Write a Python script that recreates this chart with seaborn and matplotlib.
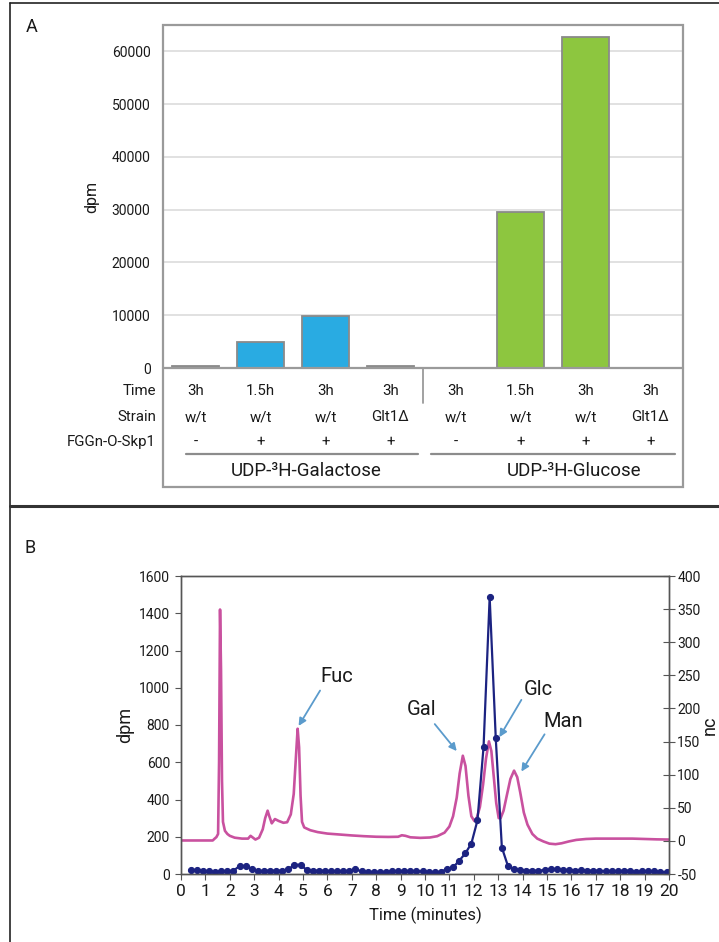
import matplotlib
matplotlib.use("Agg")
import matplotlib.pyplot as plt
import matplotlib.transforms as mtransforms
from matplotlib import font_manager
from matplotlib.patches import Rectangle
from matplotlib.lines import Line2D
import pandas as pd
import seaborn as sns

# ---------------- data: panel A (incorporation, dpm) ----------------
lane_time = ["3h", "1.5h", "3h", "3h", "3h", "1.5h", "3h", "3h"]
lane_strain = ["w/t", "w/t", "w/t", "Glt1Δ", "w/t", "w/t", "w/t", "Glt1Δ"]
lane_acceptor = ["-", "+", "+", "+", "-", "+", "+", "+"]
lane_donor = ["Gal", "Gal", "Gal", "Gal", "Glc", "Glc", "Glc", "Glc"]
lane_dpm = [350, 5000, 9800, 350, 0, 29500, 62700, 0]
donor_titles = ["UDP-³H-Galactose", "UDP-³H-Glucose"]
row_titles = ["Time", "Strain", "FGGn-O-Skp1"]
dpm_ticks_a = [0, 10000, 20000, 30000, 40000, 50000, 60000]

# ---------------- data: panel B (HPAEC trace) ----------------
trace_time = [0.0, 1.3, 1.38, 1.45, 1.52, 1.56, 1.60, 1.64, 1.68, 1.72, 1.80,
              1.9, 2.0, 2.2, 2.5, 2.75, 2.85, 2.95, 3.05, 3.2, 3.35, 3.45,
              3.55, 3.62, 3.72, 3.85, 4.0, 4.2, 4.35, 4.5, 4.62, 4.72, 4.78,
              4.84, 4.90, 4.96, 5.05, 5.3, 5.6, 6.0, 6.5, 7.0, 7.5, 8.0, 8.5,
              8.9, 9.05, 9.2, 9.4, 9.8, 10.2, 10.5, 10.8, 11.0, 11.15, 11.3,
              11.42, 11.55, 11.66, 11.78, 11.9, 12.02, 12.12, 12.25, 12.38,
              12.5, 12.62, 12.72, 12.82, 12.92, 13.02, 13.1, 13.22, 13.35,
              13.5, 13.65, 13.78, 13.9, 14.05, 14.2, 14.4, 14.6, 14.85, 15.1,
              15.35, 15.6, 15.9, 16.2, 16.6, 17.0, 17.5, 18.0, 18.5, 19.0,
              19.5, 20.0]
trace_dpm = [180, 180, 190, 198, 215, 600, 1420, 1100, 500, 280, 232,
             215, 205, 195, 190, 190, 205, 195, 185, 195, 240, 300,
             340, 310, 272, 295, 285, 275, 278, 320, 430, 650, 780,
             680, 420, 280, 250, 235, 225, 217, 212, 207, 203, 200, 199,
             200, 208, 205, 197, 194, 196, 203, 222, 255, 310, 410,
             540, 635, 580, 420, 310, 285, 300, 360, 480,
             620, 712, 660, 520, 380, 300, 300, 340, 420,
             510, 555, 520, 440, 330, 265, 215, 190, 175, 163,
             160, 165, 175, 183, 188, 190, 190, 190, 190, 188,
             186, 185]

pad_time = [0.4, 0.65, 0.9, 1.15, 1.4, 1.65, 1.9, 2.15, 2.4, 2.65, 2.9,
            3.15, 3.4, 3.65, 3.9, 4.15, 4.4, 4.65, 4.9, 5.15, 5.4, 5.65,
            5.9, 6.15, 6.4, 6.65, 6.9, 7.15, 7.4, 7.65, 7.9, 8.15, 8.4,
            8.65, 8.9, 9.15, 9.4, 9.65, 9.9, 10.15, 10.4, 10.65, 10.9,
            11.15, 11.4, 11.65, 11.9, 12.15, 12.4, 12.65, 12.9, 13.15,
            13.4, 13.65, 13.9, 14.15, 14.4, 14.65, 14.9, 15.15, 15.4,
            15.65, 15.9, 16.15, 16.4, 16.65, 16.9, 17.15, 17.4, 17.65,
            17.9, 18.15, 18.4, 18.65, 18.9, 19.15, 19.4, 19.65, 19.9]
pad_nc = [-44, -44, -45, -46, -47, -46, -46, -45, -38, -38, -42,
          -46, -45, -45, -45, -45, -43, -36, -36, -44, -45, -45,
          -45, -46, -46, -46, -45, -43, -46, -47, -47, -47, -47,
          -46, -46, -45, -46, -46, -46, -47, -47, -47, -42,
          -40, -30, -19, -4, 31, 142, 368, 155, -10,
          -38, -43, -44, -45, -45, -45, -44, -43, -43,
          -44, -44, -45, -44, -45, -45, -45, -46, -46,
          -46, -45, -45, -47, -46, -46, -46, -47, -47]

peak_names = ["Fuc", "Gal", "Glc", "Man"]
peak_text_xy = [(6.4, 1060), (9.85, 885), (14.65, 990), (15.65, 820)]
peak_arrow_tail = [(5.7, 985), (10.4, 805), (13.95, 935), (14.9, 750)]
peak_arrow_head = [(4.82, 795), (11.3, 660), (13.05, 735), (13.95, 550)]

# ---------------- style ----------------
sns.set_theme(style="white")
installed = {f.name for f in font_manager.fontManager.ttflist}
families = [f for f in ["Liberation Sans Narrow", "Roboto", "DejaVu Sans"]
            if f in installed]
plt.rcParams["font.family"] = families + ["DejaVu Sans"]
plt.rcParams["axes.unicode_minus"] = False

BLUE = "#29abe2"
GREEN = "#8dc63f"
EDGE = "#8a8a8a"
BOX = "#9a9a9a"
PINK = "#c9519f"
NAVY = "#1c2381"
ARROW = "#5b9bcc"
TXT = "#1a1a1a"

fig = plt.figure(figsize=(7.19, 9.42), dpi=100)
W, H = 719.0, 942.0


def fx(px):
    return px / W


def fy(py):
    return 1 - py / H


# outer panel frame
fig.add_artist(Line2D([fx(10), fx(10)], [0, fy(3)], color="#222222", lw=1.2))
fig.add_artist(Line2D([fx(10), 1], [fy(3), fy(3)], color="#222222", lw=1.2))
fig.add_artist(Line2D([fx(10), 1], [fy(506), fy(506)], color="#333333", lw=2.2))

# ================= panel A =================
axA = fig.add_axes([fx(163), fy(368), fx(683) - fx(163), (368 - 25) / H])
dfA = pd.DataFrame({
    "lane": [f"{d}{i}" for i, d in enumerate(lane_donor)],
    "dpm": lane_dpm,
    "donor": lane_donor,
})
bar_colors = [BLUE if d == "Gal" else GREEN for d in lane_donor]
bar_colors = [c if v > 1000 else "#9a9a9a" for c, v in zip(bar_colors, lane_dpm)]
sns.barplot(data=dfA, x="lane", y="dpm", hue="lane", palette=bar_colors,
            legend=False, width=0.71, edgecolor=EDGE, linewidth=1.3,
            saturation=1, ax=axA)
axA.set_xlim(-0.5, 7.5)
axA.set_ylim(0, 65000)
axA.set_yticks(dpm_ticks_a)
axA.set_yticklabels([str(t) for t in dpm_ticks_a], fontsize=10, color=TXT)
axA.yaxis.grid(True, color="#d9d9d9", lw=1.1)
axA.set_axisbelow(True)
axA.tick_params(axis="y", length=0, pad=9)
axA.set_xticks([])
axA.set_xlabel("")
axA.set_ylabel("dpm", fontsize=11.5, color=TXT, va="center")
axA.yaxis.set_label_coords((92 - 163) / 520.0, 0.5)
for s in axA.spines.values():
    s.set_visible(False)

# surrounding box including the table rows
box_bottom = (368 - 487) / 343.0
axA.add_patch(Rectangle((0, box_bottom), 1, 1 - box_bottom,
                        transform=axA.transAxes, fill=False, edgecolor=BOX,
                        lw=1.6, clip_on=False, zorder=5))
axA.plot([0, 1], [0, 0], transform=axA.transAxes, color=BOX, lw=1.6,
         clip_on=False, zorder=5)

trans = mtransforms.blended_transform_factory(axA.transData, axA.transAxes)
row_y = [(368 - 391) / 343.0, (368 - 417) / 343.0, (368 - 442) / 343.0]
rows = [lane_time, lane_strain, lane_acceptor]
for ry, vals, title in zip(row_y, rows, row_titles):
    for i, v in enumerate(vals):
        axA.text(i, ry, v, transform=trans, ha="center", va="center",
                 fontsize=10.8, color=TXT)
    axA.text(fx(156), fy(368) + ry * (343 / H), title, transform=fig.transFigure,
             ha="right", va="center", fontsize=10.8, color=TXT)

# divider between the two donor groups
axA.plot([3.5, 3.5], [0, (368 - 403) / 343.0], transform=trans, color=BOX,
         lw=1.3, clip_on=False)
line_y = (368 - 454) / 343.0
label_y = (368 - 471) / 343.0
for (x0, x1), xc, title in zip([(-0.15, 3.43), (3.62, 7.37)], [1.71, 5.82],
                               donor_titles):
    axA.plot([x0, x1], [line_y, line_y], transform=trans, color="#8c8c8c",
             lw=1.6, clip_on=False)
    axA.text(xc, label_y, title, transform=trans, ha="center", va="center",
             fontsize=13.5, color=TXT)

fig.text(fx(32), fy(27), "A", fontsize=13, ha="center", va="center", color=TXT)

# ================= panel B =================
axB = fig.add_axes([fx(181), fy(874), fx(669) - fx(181), (874 - 576) / H])
axB2 = axB.twinx()
dfT = pd.DataFrame({"time": trace_time, "dpm": trace_dpm})
dfP = pd.DataFrame({"time": pad_time, "nc": pad_nc})
sns.lineplot(data=dfT, x="time", y="dpm", color=PINK, lw=1.9, ax=axB)
sns.lineplot(data=dfP, x="time", y="nc", color=NAVY, lw=1.6, marker="o",
             markersize=4.4, markeredgecolor=NAVY, ax=axB2)

axB.set_xlim(0, 20)
axB.set_ylim(0, 1600)
axB2.set_ylim(-50, 400)
axB.set_xticks(range(0, 21))
axB.set_yticks(range(0, 1601, 200))
axB2.set_yticks(range(-50, 401, 50))
axB.tick_params(axis="x", direction="out", length=4, width=0.8, pad=3,
                labelsize=12.5, colors="#555555", labelcolor=TXT, bottom=True)
axB.tick_params(axis="y", direction="out", length=4, width=0.8, pad=4,
                labelsize=10, colors="#555555", labelcolor=TXT, left=True)
axB2.tick_params(axis="y", direction="inout", length=8, width=0.8, pad=2,
                 labelsize=10, colors="#555555", labelcolor=TXT, right=True)
for ax in (axB, axB2):
    for s in ax.spines.values():
        s.set_color("#555555")
        s.set_linewidth(1.0)
        s.set_visible(True)
axB.set_xlabel("Time (minutes)", fontsize=12, color=TXT, labelpad=6)
axB.set_ylabel("dpm", fontsize=13, color=TXT, va="center")
axB.yaxis.set_label_coords((125 - 181) / 488.0, 0.5)
axB2.set_ylabel("nc", fontsize=13, color=TXT, rotation=90, va="center")
axB2.yaxis.set_label_coords((710 - 181) / 488.0, 0.5)

for name, txy, tail, head in zip(peak_names, peak_text_xy, peak_arrow_tail,
                                 peak_arrow_head):
    axB.text(txy[0], txy[1], name, ha="center", va="center", fontsize=14.5,
             color=TXT, zorder=6)
    axB.annotate("", xy=head, xytext=tail,
                 arrowprops=dict(arrowstyle="-|>", color=ARROW, lw=1.3,
                                 mutation_scale=11, shrinkA=0, shrinkB=0),
                 zorder=6)

fig.text(fx(30), fy(548), "B", fontsize=13, ha="center", va="center", color=TXT)

fig.savefig("out.png", dpi=100, facecolor="white")
